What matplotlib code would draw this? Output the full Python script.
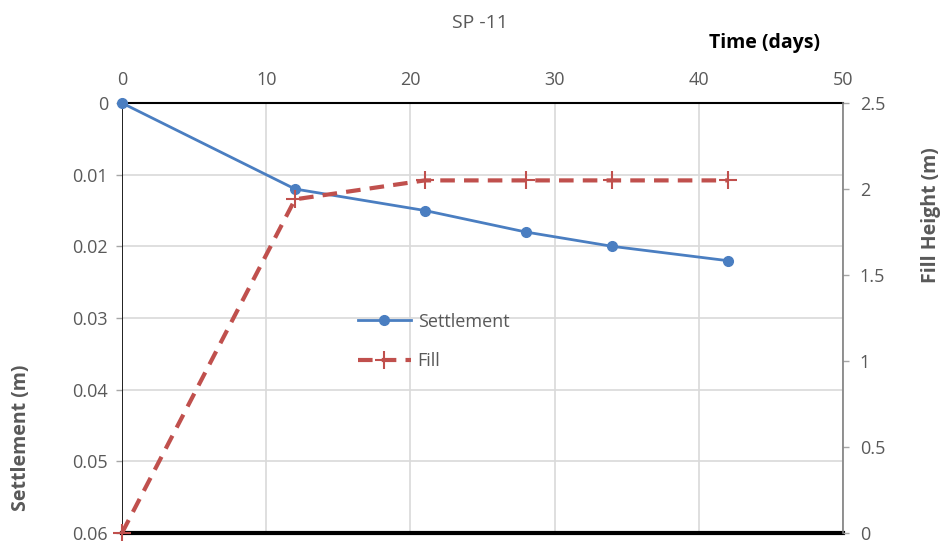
import matplotlib
matplotlib.use("Agg")
import matplotlib.pyplot as plt
from matplotlib.lines import Line2D

plt.rcParams['font.family'] = ['Open Sans', 'DejaVu Sans']

# Survey point SP-11: settlement and fill height against time
time_settle = [0, 12, 21, 28, 34, 42]
settlement = [0.0, 0.012, 0.015, 0.018, 0.020, 0.022]

time_fill = [0, 12, 21, 28, 34, 42]
fill_height = [0.0, 1.94, 2.05, 2.05, 2.05, 2.05]

x_ticks = [0, 10, 20, 30, 40, 50]
settle_ticks = [0, 0.01, 0.02, 0.03, 0.04, 0.05, 0.06]
fill_ticks = [0, 0.5, 1, 1.5, 2, 2.5]

blue = '#4A7EC1'
red = '#C0504D'
txt = '#595959'
grid = '#D9D9D9'

fig = plt.figure(figsize=(9.47, 5.41), dpi=100)
ax = fig.add_axes([0.1288, 0.0148, 0.7614, 0.7948])
ax2 = ax.twinx()

# Settlement on the left, inverted
ax.set_xlim(0, 50)
ax.set_ylim(0.06, 0)
ax.set_xticks(x_ticks)
ax.set_xticklabels([str(v) for v in x_ticks])
ax.set_yticks(settle_ticks)
ax.set_yticklabels(['0', '0.01', '0.02', '0.03', '0.04', '0.05', '0.06'])
ax.xaxis.tick_top()
ax.grid(True, color=grid, linewidth=1.2)
ax.set_axisbelow(True)
ax.tick_params(axis='x', which='both', length=0, pad=10, labelsize=13, labelcolor=txt)
ax.tick_params(axis='y', length=4, width=1, color='#A6A6A6', pad=6, labelsize=13, labelcolor=txt)

for side in ['left', 'right']:
    ax.spines[side].set_visible(False)
ax.spines['top'].set_color('black')
ax.spines['top'].set_linewidth(1.5)
ax.spines['bottom'].set_color('black')
ax.spines['bottom'].set_linewidth(3)
ax.axvline(0, color='black', linewidth=1.2, zorder=1)

ax.plot(time_settle, settlement, color=blue, linewidth=2, marker='o',
        markersize=7, zorder=4, clip_on=False)

# Fill height on the right
ax2.set_ylim(0, 2.5)
ax2.set_yticks(fill_ticks)
ax2.set_yticklabels(['0', '0.5', '1', '1.5', '2', '2.5'])
ax2.tick_params(axis='y', length=4, width=1, color='#A6A6A6', pad=8, labelsize=13, labelcolor=txt)
for side in ['left', 'top', 'bottom']:
    ax2.spines[side].set_visible(False)
ax2.spines['right'].set_color('#7F7F7F')
ax2.spines['right'].set_linewidth(1.2)

ax2.plot(time_fill, fill_height, color=red, linewidth=3, linestyle=(0, (3.5, 2.2)),
         marker='+', markersize=13, markeredgewidth=1.5, zorder=3, clip_on=False)

# Titles and axis labels
fig.text(0.507, 0.958, 'SP -11', ha='center', va='center', fontsize=14, color=txt)
fig.text(0.866, 0.921, 'Time (days)', ha='right', va='center', fontsize=14,
         fontweight='bold', color='black')
fig.text(0.022, 0.19, 'Settlement (m)', ha='center', va='center', rotation=90,
         fontsize=14, fontweight='bold', color=txt)
fig.text(0.983, 0.603, 'Fill Height (m)', ha='center', va='center', rotation=90,
         fontsize=14, fontweight='bold', color=txt)

handles = [
    Line2D([], [], color=blue, linewidth=2, marker='o', markersize=7),
    Line2D([], [], color=red, linewidth=3, linestyle=(0, (3.5, 2.2)), marker='+',
           markersize=13, markeredgewidth=1.5),
]
leg = ax.legend(handles, ['Settlement', 'Fill'], loc='center left',
                bbox_to_anchor=(0.305, 0.445), frameon=False, fontsize=13,
                handlelength=2.9, labelspacing=1.2, handletextpad=0.4)
for t in leg.get_texts():
    t.set_color(txt)

fig.savefig('out.png', dpi=100)
